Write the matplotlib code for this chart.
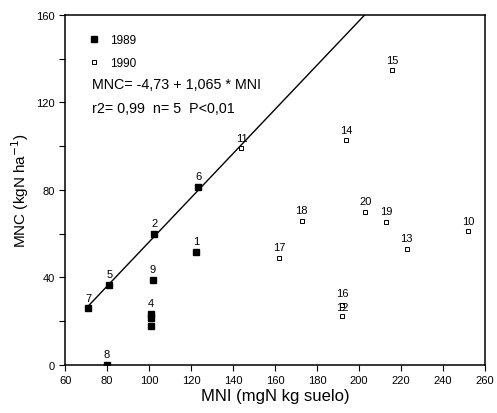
import numpy as np
import matplotlib
matplotlib.use("Agg")
import matplotlib.pyplot as plt

plt.rcParams['font.family'] = ['Liberation Sans', 'DejaVu Sans']

# 1989 (filled squares)
x89 = [122.4, 102.5, 101, 101, 101, 81, 123.5, 71, 80, 101.7]
y89 = [51.8, 60, 23.5, 21.5, 18, 36.7, 81.5, 26, 0, 39]
lab89 = ['1', '2', '4', '', '', '5', '6', '7', '8', '9']

# 1990 (open squares)
x90 = [252, 144, 191.8, 222.7, 194, 215.6, 191.8, 162, 172.7, 213, 203]
y90 = [61, 99, 22.5, 53, 102.7, 134.7, 27.4, 49, 66, 65.5, 70]
lab90 = ['10', '11', '12', '13', '14', '15', '16', '17', '18', '19', '20']

# points used for the regression line (n = 5)
reg_x = [71, 81, 102.5, 123.5, 144]
reg_y = [26, 36.7, 60, 81.5, 99]

fig = plt.figure(figsize=(4.97, 4.14), dpi=100)
ax = fig.add_axes([0.131, 0.116, 0.845, 0.846])

slope, icpt = np.polyfit(reg_x, reg_y, 1)
lx = np.array([70, 220])
ax.plot(lx, icpt + slope * lx, color='black', lw=1.0)

ax.plot(x89, y89, 's', color='black', ms=4.5, label='1989', zorder=3)
ax.plot(x90, y90, 's', mfc='white', mec='black', mew=0.7, ms=3.5,
        label='1990', zorder=3)

for x, y, t in zip(x89, y89, lab89):
    if t:
        ax.annotate(t, (x, y), xytext=(0, 4), textcoords='offset points',
                    ha='center', va='bottom', fontsize=8)
for x, y, t in zip(x90, y90, lab90):
    dy = 4
    if t == '12':
        dy = 3
    if t == '16':
        dy = 5
    ax.annotate(t, (x, y), xytext=(0, dy), textcoords='offset points',
                ha='center', va='bottom', fontsize=8)

ax.legend(loc='upper left', bbox_to_anchor=(0.03, 0.975), frameon=False,
          fontsize=8.5, handlelength=1.0, handletextpad=0.8,
          labelspacing=0.9)
ax.text(0.064, 0.802, 'MNC= -4,73 + 1,065 * MNI', transform=ax.transAxes,
        fontsize=10.3, va='center')
ax.text(0.064, 0.735, 'r2= 0,99  n= 5  P<0,01', transform=ax.transAxes,
        fontsize=10.3, va='center')

ax.set_xlim(60, 260)
ax.set_ylim(0, 160)
ax.set_xticks(np.arange(60, 261, 20))
ax.set_yticks([0, 40, 80, 120, 160])
ax.set_yticks([20, 60, 100, 140], minor=True)
ax.tick_params(labelsize=8, length=4, width=0.8)
ax.tick_params(which='minor', length=4, width=0.8)
for s in ax.spines.values():
    s.set_linewidth(1.1)

ax.set_xlabel('MNI (mgN kg suelo)', fontsize=12, labelpad=2)
ax.set_ylabel('MNC (kgN ha$^{-1}$)', fontsize=11)

fig.savefig('out.png', dpi=100)
